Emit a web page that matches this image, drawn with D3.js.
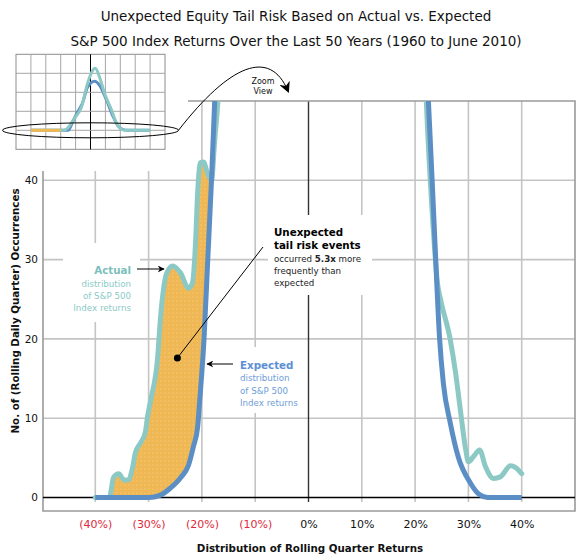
<!DOCTYPE html>
<html><head><meta charset="utf-8">
<script src="https://cdn.jsdelivr.net/npm/d3@7"></script>
<style>body{margin:0;background:#fff}svg{display:block;font-family:"DejaVu Sans",Verdana,sans-serif}</style>
</head><body>
<svg id="c" width="577" height="556"></svg>
<script>
// ---------- data ----------
const titleLines = ["Unexpected Equity Tail Risk Based on Actual vs. Expected",
                    "S&P 500 Index Returns Over the Last 50 Years (1960 to June 2010)"];
const xTicks = [-40, -30, -20, -10, 0, 10, 20, 30, 40];
const xTickLabels = ["(40%)", "(30%)", "(20%)", "(10%)", "0%", "10%", "20%", "30%", "40%"];
const yTicks = [0, 10, 20, 30, 40];
const xTitle = "Distribution of Rolling Quarter Returns";
const yTitle = "No. of (Rolling Daily Quarter) Occurrences";

// zoom view: [quarter return %, occurrences]
const expectedLeft = [[-40,0],[-30,0],[-27.8,0.3],[-25.9,1.2],[-24,2.5],[-22.5,4.1],[-21.6,6.4],[-20.8,8.9],[-20.4,12.3],[-19.6,20],[-18.9,30],[-18.2,40],[-17.6,50],[-17.3,55]];
const expectedRight = [[22.2,55],[22.5,50],[23.2,40],[23.8,31],[24.6,20],[25.3,14.4],[26.6,9.4],[28.1,5.1],[30.4,1.8],[32,0.4],[33.6,0],[40,0]];
const actualLeft = [[-40,0],[-37.3,0],[-37,1],[-36.6,2.5],[-35.6,3],[-34.6,2.2],[-33.8,2.2],[-33,3.8],[-32.5,5.6],[-31.5,6.9],[-30.6,8.3],[-30.2,10.2],[-29.6,12.3],[-28.3,17.7],[-27.8,22.4],[-26.6,28.3],[-25.5,29.2],[-24,28.3],[-22.5,26.4],[-21.8,27],[-21.2,32],[-20.8,38.4],[-20.3,42.2],[-19.7,42.3],[-19,41],[-18.2,40],[-17.6,45],[-16.9,51],[-16.6,55]];
const actualRight = [[21.8,55],[22.1,50],[23.3,35],[24.2,27],[24.8,24.9],[26.6,19.9],[27.6,15.7],[28.5,11],[29.5,6],[30,4.5],[31,5.2],[32.1,6],[33.2,3.9],[34.7,2.4],[36,2.6],[37.9,4],[38.8,3.8],[40,3]];
const tailCrossing = -18.2;

// full-distribution inset: [quarter return %, occurrences]
const insetExpected = [[-40,0],[-15,0],[-12.1,42],[-8.8,95],[-5.4,142],[-2,226],[2.7,258],[6.1,237],[10.8,158],[14.8,79],[18.2,26],[21.6,5],[25,0],[40,0]];
const insetActual = [[-40,0],[-18,0],[-15.5,10],[-10.8,63],[-6.1,121],[-2,247],[3.2,326],[6.1,279],[9.4,195],[14.2,105],[17.5,37],[20.9,5],[24,0],[40,0]];
const insetTail = [[-40,0],[-20,0]];
const insetXTicks = [-40,-30,-20,-10,0,10,20,30,40];
const insetYTicks = [0,100,200,300];

// annotation anchors (data units)
const tailDot = [-24.6, 17.6];

// ---------- drawing ----------
const TEAL = "#8cc9c4", BLUE = "#5b8ec4", ORANGE = "#f0b855";
const svg = d3.select("#c");
const defs = svg.append("defs");

const x = d3.scaleLinear().domain([-50, 50]).range([42, 575]);
const y = d3.scaleLinear().domain([0, 50]).range([497.5, 101]);
const plotTop = 101, plotBottom = 511, plotLeft = 43, plotRight = 575;

defs.append("clipPath").attr("id","plotClip").append("rect")
  .attr("x", plotLeft).attr("y", plotTop).attr("width", plotRight-plotLeft).attr("height", plotBottom-plotTop);

const pat = defs.append("pattern").attr("id","dots").attr("patternUnits","userSpaceOnUse")
  .attr("width",4).attr("height",4);
pat.append("rect").attr("width",4).attr("height",4).attr("fill",ORANGE);
pat.append("circle").attr("cx",1).attr("cy",1).attr("r",0.5).attr("fill","#f8d898");

const mk = (id, color) => defs.append("marker").attr("id", id).attr("viewBox","0 0 10 10")
  .attr("refX",9).attr("refY",5).attr("markerWidth",7).attr("markerHeight",7)
  .attr("markerUnits","userSpaceOnUse").attr("orient","auto")
  .append("path").attr("d","M0,0 L10,5 L0,10 L3,5 Z").attr("fill", color);
mk("arr","#000");
defs.append("marker").attr("id","arrBig").attr("viewBox","0 0 10 10")
  .attr("refX",8).attr("refY",5).attr("markerWidth",11).attr("markerHeight",11)
  .attr("markerUnits","userSpaceOnUse").attr("orient","auto")
  .append("path").attr("d","M0,0 L10,5 L0,10 L3,5 Z").attr("fill","#000");

// title
svg.append("g").selectAll("text").data(titleLines).join("text")
  .attr("x", 296).attr("y", (d,i) => 21 + i*25)
  .attr("text-anchor","middle").attr("font-size", 13.5).attr("fill","#111").text(d => d);

// grid
const grid = svg.append("g");
yTicks.filter(v => v > 0).forEach(v => {
  grid.append("line").attr("x1", plotLeft).attr("x2", plotRight).attr("y1", y(v)).attr("y2", y(v))
    .attr("stroke","#c4c4c4").attr("stroke-width",1.6);
});
xTicks.forEach(v => {
  const top = x(v) < 188 ? 171 : plotTop;
  grid.append("line").attr("x1", x(v)).attr("x2", x(v)).attr("y1", top).attr("y2", y(0) + 4.5)
    .attr("stroke", v === 0 ? "#333" : "#c4c4c4").attr("stroke-width", v === 0 ? 1.4 : 1.6);
});
// frame
grid.append("path")
  .attr("d", `M188,${plotTop} H${plotRight} V${plotBottom} H${plotLeft} V171`)
  .attr("fill","none").attr("stroke","#9a9a9a").attr("stroke-width",1.6);
// zero line
grid.append("line").attr("x1", plotLeft).attr("x2", plotRight).attr("y1", y(0)).attr("y2", y(0))
  .attr("stroke","#000").attr("stroke-width",1.4);

// white label boxes (hide grid behind annotations)
const boxes = [[63,243,77,79],[268,215,104,80],[236,347,66,66]];
svg.append("g").selectAll("rect").data(boxes).join("rect")
  .attr("x", d=>d[0]).attr("y", d=>d[1]).attr("width", d=>d[2]).attr("height", d=>d[3]).attr("fill","#fff");

// axes
const xAxis = svg.append("g").attr("transform", `translate(0,${plotBottom})`)
  .call(d3.axisBottom(x).tickValues(xTicks).tickFormat((d,i) => xTickLabels[i]).tickSize(0).tickPadding(9));
xAxis.select(".domain").remove();
xAxis.selectAll("text").attr("font-size", 11).attr("font-family", "DejaVu Sans")
  .attr("fill", d => d < 0 ? "#e0283a" : "#111");

const yAxis = svg.append("g").attr("transform", `translate(${plotLeft},0)`)
  .call(d3.axisLeft(y).tickValues(yTicks).tickSize(0).tickPadding(5));
yAxis.select(".domain").remove();
yAxis.selectAll("text").attr("font-size", 10.5).attr("font-family", "DejaVu Sans").attr("fill","#111");

svg.append("text").attr("x", 310).attr("y", 552).attr("text-anchor","middle")
  .attr("font-size", 10.3).attr("font-weight","bold").attr("fill","#111").text(xTitle);
svg.append("text").attr("transform","translate(19,311) rotate(-90)").attr("text-anchor","middle")
  .attr("font-size", 10.3).attr("font-weight","bold").attr("fill","#111").text(yTitle);

// curves
const plot = svg.append("g").attr("clip-path","url(#plotClip)");
const line = d3.line().x(d => x(d[0])).y(d => y(d[1])).curve(d3.curveMonotoneX);

// tail fill: area under actual, clipped to region above expected
defs.append("clipPath").attr("id","aboveExpected").append("path")
  .attr("d", d3.area().x(d => x(d[0])).y0(d => y(d[1])).y1(y(60)).curve(d3.curveMonotoneX)(expectedLeft));
plot.append("g").attr("clip-path","url(#aboveExpected)").append("path")
  .attr("d", d3.area().x(d => x(d[0])).y0(y(0)).y1(d => y(d[1])).curve(d3.curveMonotoneX)(actualLeft.filter(d => d[0] <= tailCrossing)))
  .attr("fill","url(#dots)");

[actualLeft, actualRight].forEach(s => plot.append("path").attr("d", line(s))
  .attr("fill","none").attr("stroke", TEAL).attr("stroke-width",5).attr("stroke-linejoin","round").attr("stroke-linecap","round"));
[expectedLeft, expectedRight].forEach(s => plot.append("path").attr("d", line(s))
  .attr("fill","none").attr("stroke", BLUE).attr("stroke-width",5).attr("stroke-linejoin","round").attr("stroke-linecap","butt"));

// annotations
function block(x0, ys, lines, anchor) {
  const g = svg.append("g");
  lines.forEach((l, i) => {
    const t = g.append("text").attr("x", x0).attr("y", ys[i]).attr("text-anchor", anchor)
      .attr("font-size", l.s).attr("font-weight", l.b ? "bold" : "normal").attr("fill", l.c);
    if (l.parts) l.parts.forEach(p => t.append("tspan").attr("font-weight", p.b ? "bold":"normal").text(p.t));
    else t.text(l.t);
  });
}
block(131, [274, 286.5, 298.5, 310.5], [
  {t:"Actual", s:10.3, b:true, c:"#7dbfbc"},
  {t:"distribution", s:8.7, c:"#8ccac6"},
  {t:"of S&P 500", s:8.7, c:"#8ccac6"},
  {t:"Index returns", s:8.7, c:"#8ccac6"}], "end");
svg.append("line").attr("x1",137).attr("x2",164).attr("y1",269).attr("y2",269)
  .attr("stroke","#000").attr("stroke-width",1).attr("marker-end","url(#arr)");

block(274, [236, 249, 261.5, 274, 286], [
  {t:"Unexpected", s:10.3, b:true, c:"#000"},
  {t:"tail risk events", s:10.3, b:true, c:"#000"},
  {parts:[{t:"occurred "},{t:"5.3x",b:true},{t:" more"}], s:8.7, c:"#222"},
  {t:"frequently than", s:8.7, c:"#222"},
  {t:"expected", s:8.7, c:"#222"}], "start");
svg.append("line").attr("x1",263).attr("y1",247).attr("x2",x(tailDot[0])).attr("y2",y(tailDot[1]))
  .attr("stroke","#000").attr("stroke-width",1);
svg.append("circle").attr("cx",x(tailDot[0])).attr("cy",y(tailDot[1])).attr("r",3.5).attr("fill","#000");

block(240, [369, 381, 393.5, 405.5], [
  {t:"Expected", s:10.3, b:true, c:"#5b8fd4"},
  {t:"distribution", s:8.7, c:"#6f9ed8"},
  {t:"of S&P 500", s:8.7, c:"#6f9ed8"},
  {t:"Index returns", s:8.7, c:"#6f9ed8"}], "start");
svg.append("line").attr("x1",233).attr("x2",207).attr("y1",364).attr("y2",364)
  .attr("stroke","#000").attr("stroke-width",1).attr("marker-end","url(#arr)");

// inset (full distribution)
const ix = d3.scaleLinear().domain([-50, 50]).range([16, 165]);
const iy = d3.scaleLinear().domain([-100, 400]).range([149.3, 54.3]);
const inset = svg.append("g");
inset.append("rect").attr("x", ix(-50)).attr("y", iy(400)).attr("width", ix(50)-ix(-50)).attr("height", iy(-100)-iy(400))
  .attr("fill","#fff").attr("stroke","#8c8c8c").attr("stroke-width",1);
insetXTicks.forEach(v => inset.append("line").attr("x1", ix(v)).attr("x2", ix(v)).attr("y1", iy(400)).attr("y2", iy(-100))
  .attr("stroke", v === 0 ? "#000" : "#a6a6a6").attr("stroke-width", 1));
insetYTicks.forEach(v => inset.append("line").attr("x1", ix(-50)).attr("x2", ix(50)).attr("y1", iy(v)).attr("y2", iy(v))
  .attr("stroke","#a6a6a6").attr("stroke-width",1));
const iline = d3.line().x(d => ix(d[0])).y(d => iy(d[1])).curve(d3.curveMonotoneX);
inset.append("path").attr("d", iline(insetExpected)).attr("fill","none").attr("stroke", BLUE).attr("stroke-width",3);
inset.append("path").attr("d", iline(insetActual)).attr("fill","none").attr("stroke", TEAL).attr("stroke-width",3);
inset.append("path").attr("d", iline(insetTail)).attr("fill","none").attr("stroke", ORANGE).attr("stroke-width",3);
inset.append("ellipse").attr("cx", ix(0)).attr("cy", iy(0)).attr("rx", 88).attr("ry", 7.5)
  .attr("fill","none").attr("stroke","#000").attr("stroke-width",1);

// zoom arrow
svg.append("path").attr("d", `M${ix(0)+88},${iy(0)} C230,64 270,48 288,91`)
  .attr("fill","none").attr("stroke","#000").attr("stroke-width",1).attr("marker-end","url(#arrBig)");
svg.append("g").selectAll("text").data(["Zoom","View"]).join("text")
  .attr("x", 263).attr("y", (d,i) => 84 + i*10).attr("text-anchor","middle")
  .attr("font-size", 8).attr("fill","#111").text(d => d);
</script>
</body></html>
